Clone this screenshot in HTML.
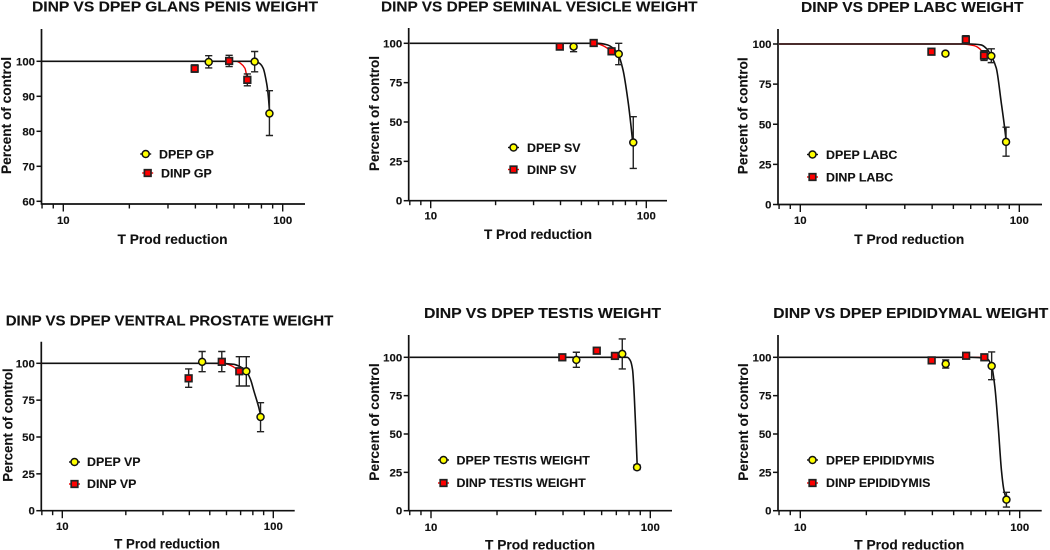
<!DOCTYPE html>
<html lang="en">
<head>
<meta charset="utf-8">
<title>DINP vs DPEP organ weights</title>
<style>
html,body{margin:0;padding:0;background:#fff;width:1050px;height:550px;overflow:hidden}
svg{display:block;filter:blur(0.3px)}
text{font-family:"Liberation Sans",Arial,sans-serif;font-weight:700;fill:#111;stroke:#111;stroke-width:0.12px}
.title{font-size:15.2px}
.axt{font-size:14.2px}
.tick{font-size:11.4px}
.leg{font-size:12.4px}
</style>
</head>
<body>
<svg id="fig" width="1050" height="550" viewBox="0 0 1050 550" xmlns="http://www.w3.org/2000/svg">
  <g id="c0">
    <text class="title" x="32" y="11.5" textLength="286" lengthAdjust="spacingAndGlyphs">DINP VS DPEP GLANS PENIS WEIGHT</text>
    <text class="axt" transform="translate(11,174) rotate(-90)" textLength="117" lengthAdjust="spacingAndGlyphs">Percent of control</text>
    <text class="axt" x="117.5" y="244" textLength="110" lengthAdjust="spacingAndGlyphs">T Prod reduction</text>
    <text class="leg" x="159" y="158.5">DPEP GP</text>
    <text class="leg" x="161" y="177.5">DINP GP</text>
  </g>
  <g id="c1">
    <text class="title" x="381" y="11.5" textLength="316.5" lengthAdjust="spacingAndGlyphs">DINP VS DPEP SEMINAL VESICLE WEIGHT</text>
    <text class="axt" transform="translate(379,171) rotate(-90)" textLength="115" lengthAdjust="spacingAndGlyphs">Percent of control</text>
    <text class="axt" x="484" y="239" textLength="108" lengthAdjust="spacingAndGlyphs">T Prod reduction</text>
    <text class="leg" x="527" y="152">DPEP SV</text>
    <text class="leg" x="527" y="174">DINP SV</text>
  </g>
  <g id="c2">
    <text class="title" x="801" y="12" textLength="222.5" lengthAdjust="spacingAndGlyphs">DINP VS DPEP LABC WEIGHT</text>
    <text class="axt" transform="translate(747.7,174.3) rotate(-90)" textLength="117" lengthAdjust="spacingAndGlyphs">Percent of control</text>
    <text class="axt" x="854.3" y="244" textLength="110" lengthAdjust="spacingAndGlyphs">T Prod reduction</text>
    <text class="leg" x="826" y="159">DPEP LABC</text>
    <text class="leg" x="826" y="181.5">DINP LABC</text>
  </g>
  <g id="c3">
    <text class="title" x="5.7" y="325.5" textLength="327.6" lengthAdjust="spacingAndGlyphs">DINP VS DPEP VENTRAL PROSTATE WEIGHT</text>
    <text class="axt" transform="translate(12.3,481.7) rotate(-90)" textLength="113.4" lengthAdjust="spacingAndGlyphs">Percent of control</text>
    <text class="axt" x="114.3" y="548.3" textLength="105.7" lengthAdjust="spacingAndGlyphs">T Prod reduction</text>
    <text class="leg" x="87" y="466">DPEP VP</text>
    <text class="leg" x="87" y="488">DINP VP</text>
  </g>
  <g id="c4">
    <text class="title" x="424" y="318" textLength="237" lengthAdjust="spacingAndGlyphs">DINP VS DPEP TESTIS WEIGHT</text>
    <text class="axt" transform="translate(379,480.7) rotate(-90)" textLength="117.4" lengthAdjust="spacingAndGlyphs">Percent of control</text>
    <text class="axt" x="485" y="549.7" textLength="110" lengthAdjust="spacingAndGlyphs">T Prod reduction</text>
    <text class="leg" x="456.5" y="464.5">DPEP TESTIS WEIGHT</text>
    <text class="leg" x="456.5" y="487">DINP TESTIS WEIGHT</text>
  </g>
  <g id="c5">
    <text class="title" x="773.3" y="318" textLength="275" lengthAdjust="spacingAndGlyphs">DINP VS DPEP EPIDIDYMAL WEIGHT</text>
    <text class="axt" transform="translate(748,480.7) rotate(-90)" textLength="117.4" lengthAdjust="spacingAndGlyphs">Percent of control</text>
    <text class="axt" x="854.3" y="549.7" textLength="110" lengthAdjust="spacingAndGlyphs">T Prod reduction</text>
    <text class="leg" x="826" y="464.5">DPEP EPIDIDYMIS</text>
    <text class="leg" x="826" y="487">DINP EPIDIDYMIS</text>
  </g>
</svg>
<script>
// ---- Shared x values (T Prod reduction, %) ----
var dpepX = [46, 74.5, 87];
var dinpX = [39.7, 57, 69];

// ---- Axis tick values ----
var xTickValues = [8, 9, 10, 20, 30, 40, 50, 60, 70, 80, 90, 100];
var xTickLabels = [10, 100];
var yTicksGP = [60, 70, 80, 90, 100];
var yTicksStd = [0, 25, 50, 75, 100];

// ---- Glans penis ----
var gpDpepY = [99.8, 99.9, 85.1];
var gpDpepHi = [101.6, 102.8, 91.6];
var gpDpepLo = [98.1, 97, 78.8];
var gpDinpY = [97.9, 100.1, 94.7];
var gpDinpHi = [99, 101.7, 96.4];
var gpDinpLo = [96.9, 98.5, 93];
var gpDpepCurveX = [8, 70, 75, 78.5, 81.5, 84.5, 86, 87.2];
var gpDpepCurveY = [100, 100, 100, 99.4, 98, 93.7, 90, 85];
var gpDinpCurveX = [8, 58, 61.7, 64, 67.3, 69];
var gpDinpCurveY = [100, 100, 100, 99.5, 98, 94.7];

// ---- Seminal vesicle ----
var svDpepY = [97.9, 93.2, 37];
var svDpepHi = [100, 100, 53.4];
var svDpepLo = [94.7, 86.4, 20.5];
var svDinpY = [97.9, 100.2, 94.9];
var svDinpHi = [99.4, 101.2, 95.9];
var svDinpLo = [96.4, 99.2, 93.9];
var svDpepCurveX = [8, 60, 66, 70, 74, 78, 82.5, 85, 86.5];
var svDpepCurveY = [100, 100, 99, 97, 93, 83, 62, 47, 37];
var svDinpCurveX = [8, 55, 60, 64, 69];
var svDinpCurveY = [100, 100, 99.5, 98, 94.9];

// ---- LABC ----
var labcDpepY = [94, 92.5, 39];
var labcDpepHi = [95, 97, 48.2];
var labcDpepLo = [93, 88.4, 30.1];
var labcDinpY = [95.2, 102.7, 92.8];
var labcDinpHi = [96.2, 105.2, 95.8];
var labcDinpLo = [94.2, 100.2, 89.8];
var labcDpepCurveX = [8, 60, 67, 71, 74.5, 78.5, 82.8, 85.5, 87.2];
var labcDpepCurveY = [100, 100, 99.4, 97, 92.5, 85, 63, 49, 39];
var labcDinpCurveX = [8, 55, 62, 66, 69];
var labcDinpCurveY = [100, 100, 99, 97, 92.8];

// ---- Ventral prostate ----
var vpDpepY = [101, 94.6, 63.6];
var vpDpepHi = [108, 104.5, 73.3];
var vpDpepLo = [94.3, 84.6, 53.6];
var vpDinpY = [89.8, 101, 94.6];
var vpDinpHi = [96.2, 108, 104.5];
var vpDinpLo = [83.7, 94.3, 84.6];
var vpDpepCurveX = [8, 55, 65, 70, 74.5, 78, 81, 85, 87.5];
var vpDpepCurveY = [100, 100, 99.3, 97.5, 94.6, 89, 81, 71, 63.6];
var vpDinpCurveX = [8, 50, 60, 64, 69];
var vpDinpCurveY = [100, 100, 99.5, 98, 94.6];

// ---- Testis ----
var tsDpepY = [98.3, 102.2, 28.3];
var tsDpepHi = [103.3, 112, 29.8];
var tsDpepLo = [93.5, 92.4, 26.8];
var tsDinpY = [100, 104.3, 100.9];
var tsDinpHi = [101, 105.3, 102.4];
var tsDinpLo = [99, 103.3, 99.4];
var tsDpepCurveX = [8, 75, 78.5, 81, 83, 84.5, 86, 87.2];
var tsDpepCurveY = [100, 100, 100, 98, 92, 75, 50, 28.3];
var tsDinpCurveX = [8, 69];
var tsDinpCurveY = [100, 100];

// ---- Epididymis ----
var epDpepY = [95.7, 94.3, 7.2];
var epDpepHi = [98.3, 103.5, 12];
var epDpepLo = [93, 85.4, 2.4];
var epDinpY = [98, 101, 100];
var epDinpHi = [99.5, 102.5, 101.5];
var epDinpLo = [96.5, 99.5, 98.5];
var epDpepCurveX = [8, 60, 70.8, 74.5, 77, 79.8, 82.6, 84.7, 87];
var epDpepCurveY = [100, 100, 99.3, 94.3, 81, 55, 26, 13.5, 7.2];
var epDinpCurveX = [8, 66, 69];
var epDinpCurveY = [100, 100, 100];

// ---- Layout only (pixel frame of each panel) ----
var panels = [
  {id:'c0', L:41.5, R:305, T:29, B:204, x10:63.3, x100:282.7, yA:100, pA:61.3, yB:60, pB:201.3, ticks:yTicksGP, lbl:224,
   lg:[145.7,154,147.7,173],
   dp:[gpDpepY,gpDpepHi,gpDpepLo,gpDpepCurveX,gpDpepCurveY], di:[gpDinpY,gpDinpHi,gpDinpLo,gpDinpCurveX,gpDinpCurveY]},
  {id:'c1', L:408.7, R:667, T:28, B:200.7, x10:430.7, x100:646.3, yA:100, pA:43.3, yB:0, pB:200.7, ticks:yTicksStd, lbl:219.5,
   lg:[513.5,147.5,513.5,169.5],
   dp:[svDpepY,svDpepHi,svDpepLo,svDpepCurveX,svDpepCurveY], di:[svDinpY,svDinpHi,svDinpLo,svDinpCurveX,svDinpCurveY]},
  {id:'c2', L:778, R:1042, T:29, B:204.5, x10:800.3, x100:1019.3, yA:100, pA:44, yB:0, pB:204.5, ticks:yTicksStd, lbl:224,
   lg:[812.5,154.5,812.5,177],
   dp:[labcDpepY,labcDpepHi,labcDpepLo,labcDpepCurveX,labcDpepCurveY], di:[labcDinpY,labcDinpHi,labcDinpLo,labcDinpCurveX,labcDinpCurveY]},
  {id:'c3', L:41.3, R:294.7, T:341.7, B:510.7, x10:62.3, x100:273.3, yA:100, pA:363.3, yB:0, pB:510.7, ticks:yTicksStd, lbl:530,
   lg:[74.5,462,74.5,484],
   dp:[vpDpepY,vpDpepHi,vpDpepLo,vpDpepCurveX,vpDpepCurveY], di:[vpDinpY,vpDinpHi,vpDinpLo,vpDinpCurveX,vpDinpCurveY]},
  {id:'c4', L:408.7, R:672, T:335, B:510.7, x10:431, x100:650.3, yA:100, pA:357.3, yB:0, pB:510.7, ticks:yTicksStd, lbl:531,
   lg:[443.5,460,443.5,483],
   dp:[tsDpepY,tsDpepHi,tsDpepLo,tsDpepCurveX,tsDpepCurveY], di:[tsDinpY,tsDinpHi,tsDinpLo,tsDinpCurveX,tsDinpCurveY]},
  {id:'c5', L:778, R:1041.7, T:335, B:510.7, x10:800.3, x100:1019.7, yA:100, pA:357.3, yB:0, pB:510.7, ticks:yTicksStd, lbl:531,
   lg:[812.5,460,812.5,483],
   dp:[epDpepY,epDpepHi,epDpepLo,epDpepCurveX,epDpepCurveY], di:[epDinpY,epDinpHi,epDinpLo,epDinpCurveX,epDinpCurveY]}
];

var NS = 'http://www.w3.org/2000/svg';
function mk(parent, tag, attrs) {
  var el = document.createElementNS(NS, tag);
  for (var k in attrs) el.setAttribute(k, attrs[k]);
  parent.appendChild(el);
  return el;
}

// Monotone cubic path through pixel points
function curvePath(px, py) {
  var n = px.length, d = [], m = [], i;
  for (i = 0; i < n - 1; i++) d.push((py[i + 1] - py[i]) / (px[i + 1] - px[i]));
  m.push(d[0]);
  for (i = 1; i < n - 1; i++) m.push(d[i - 1] * d[i] <= 0 ? 0 : 2 * d[i - 1] * d[i] / (d[i - 1] + d[i]));
  m.push(d[n - 2]);
  var s = 'M' + px[0].toFixed(2) + ' ' + py[0].toFixed(2);
  for (i = 0; i < n - 1; i++) {
    var h = (px[i + 1] - px[i]) / 3;
    s += 'C' + (px[i] + h).toFixed(2) + ' ' + (py[i] + m[i] * h).toFixed(2) + ' ' +
      (px[i + 1] - h).toFixed(2) + ' ' + (py[i + 1] - m[i + 1] * h).toFixed(2) + ' ' +
      px[i + 1].toFixed(2) + ' ' + py[i + 1].toFixed(2);
  }
  return s;
}

function drawCircle(g, cx, cy) {
  var c = mk(g, 'circle', {cx: cx, cy: cy, r: 3.5, fill: '#ffff00', stroke: '#111', 'stroke-width': 1.5});
  
  
}
function drawSquare(g, cx, cy) {
  var r = mk(g, 'rect', {x: cx - 3.3, y: cy - 3.3, width: 6.6, height: 6.6, fill: '#ff0000', stroke: '#222', 'stroke-width': 1.7});
  
  
}

panels.forEach(function (p) {
  var g = document.getElementById(p.id);
  var decade = p.x100 - p.x10;
  var xs = function (v) { return p.x10 + decade * (Math.log(v) / Math.LN10 - 1); };
  var ys = function (v) { return p.pA + (p.yA - v) * (p.pB - p.pA) / (p.yA - p.yB); };

  // axes
  var yAxis = mk(g, 'line', {x1: p.L, x2: p.L, y1: p.T, y2: p.B + 0.8, stroke: '#111', 'stroke-width': 1.7});
  
  
  var xAxis = mk(g, 'line', {x1: p.L, x2: p.R, y1: p.B, y2: p.B, stroke: '#111', 'stroke-width': 1.7});
  
  

  p.ticks.forEach(function (v) {
    var yy = ys(v);
    var t = mk(g, 'line', {x1: p.L - 5, x2: p.L, y1: yy, y2: yy, stroke: '#111', 'stroke-width': 1.5});
    
    
    var l = mk(g, 'text', {'class': 'tick', x: p.L - 6.5, y: yy + 4, 'text-anchor': 'end'});
    
    
    l.textContent = v;
  });

  xTickValues.forEach(function (v) {
    var xx = xs(v);
    var major = xTickLabels.indexOf(v) >= 0;
    var t = mk(g, 'line', {x1: xx, x2: xx, y1: p.B, y2: p.B + (major ? 7.5 : 4.5), stroke: '#111', 'stroke-width': 1.4});
    
    
    if (major) {
      var l = mk(g, 'text', {'class': 'tick', x: xx, y: p.lbl, 'text-anchor': 'middle'});
      
      
      l.textContent = v;
    }
  });

  // curves (red beneath black)
  var dinpCurve = mk(g, 'path', {d: curvePath(p.di[3].map(xs), p.di[4].map(ys)), fill: 'none', stroke: '#f00000', 'stroke-width': 1.4});
  
  
  var dpepCurve = mk(g, 'path', {d: curvePath(p.dp[3].map(xs), p.dp[4].map(ys)), fill: 'none', stroke: '#111', 'stroke-width': 1.6});
  
  

  // error bars and markers
  function errs(xv, s) {
    xv.forEach(function (x, i) {
      var cx = xs(x), hi = ys(s[1][i]), lo = ys(s[2][i]);
      var e = mk(g, 'path', {d: 'M' + cx + ' ' + hi + 'V' + lo + 'M' + (cx - 3.6) + ' ' + hi + 'H' + (cx + 3.6) + 'M' + (cx - 3.6) + ' ' + lo + 'H' + (cx + 3.6), fill: 'none', stroke: '#222', 'stroke-width': 1.4});
      
      
    });
  }
  errs(dpepX, p.dp);
  errs(dinpX, p.di);
  dpepX.forEach(function (x, i) { drawCircle(g, xs(x), ys(p.dp[0][i])); });
  dinpX.forEach(function (x, i) { drawSquare(g, xs(x), ys(p.di[0][i])); });

  // legend glyphs
  var a = mk(g, 'line', {x1: p.lg[0] - 5.5, x2: p.lg[0] + 5.5, y1: p.lg[1], y2: p.lg[1], stroke: '#111', 'stroke-width': 1.4});
  
  
  drawCircle(g, p.lg[0], p.lg[1]);
  var b = mk(g, 'line', {x1: p.lg[2] - 5.5, x2: p.lg[2] + 5.5, y1: p.lg[3], y2: p.lg[3], stroke: '#f00000', 'stroke-width': 1.4});
  
  
  drawSquare(g, p.lg[2], p.lg[3]);
});
</script>
</body>
</html>
